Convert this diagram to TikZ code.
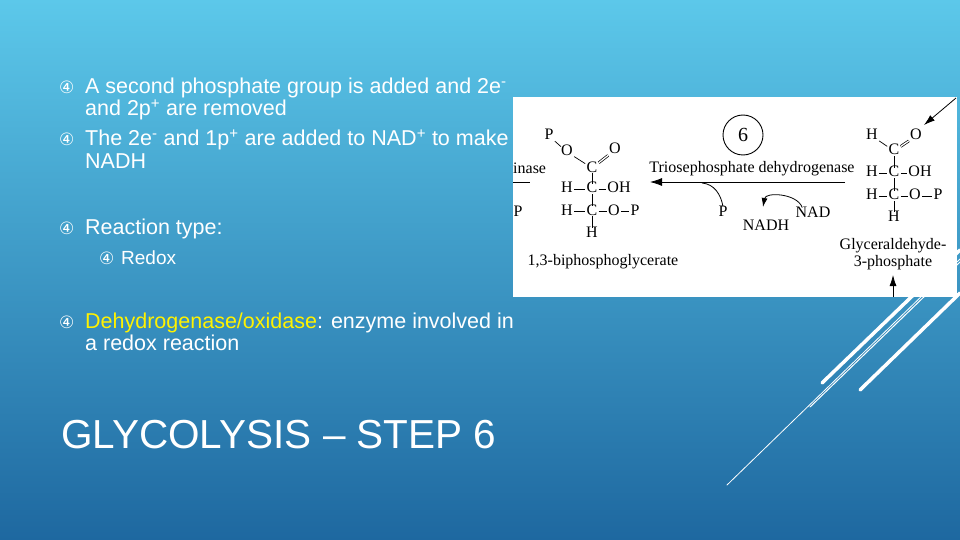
\documentclass[tikz,border=0pt]{standalone}
\usepackage{fontspec}
\setmainfont{Liberation Sans}
\newfontfamily\chemfont{Liberation Serif}
\newfontfamily\symfont{DejaVu Sans}
\usetikzlibrary{arrows.meta}
\begin{document}
\begin{tikzpicture}[x=1pt,y=-1pt,
  txt/.style={text=white,anchor=base west,inner sep=0pt,font=\fontsize{21.5}{23}\selectfont},
  bul/.style={text=white,anchor=base west,inner sep=0pt,font=\symfont\fontsize{17}{18}\selectfont},
  ch/.style={inner sep=1.2pt,text height=8pt,text depth=0pt,font=\chemfont\fontsize{16}{17}\selectfont},
  bond/.style={line width=0.7pt},
  deco/.style={white,line cap=round}]
\shade[top color={rgb,255:red,92;green,200;blue,234},bottom color={rgb,255:red,30;green,104;blue,160}] (0,0) rectangle (960,540);
\useasboundingbox (0,0) rectangle (960,540);
% decorative lines
\draw[deco,line width=3.5pt] (822,383) -- (960,250);
\draw[deco,line width=1pt] (810,407) -- (960,262);
\draw[deco,line width=0.8pt] (727,485) -- (960,259);
\draw[deco,line width=3.5pt] (860,390) -- (960,293);
% text
\node[bul] (b1) at (59,94) {④};
\node[txt] (t1) at (85,94) {A second phosphate group is added and 2e\textsuperscript{-}};
\node[txt] (t1b) at (85,116) {and 2p\textsuperscript{+} are removed};
\node[bul] (b2) at (59,146) {④};
\node[txt] (t2) at (85,146) {The 2e\textsuperscript{-} and 1p\textsuperscript{+} are added to NAD\textsuperscript{+} to make};
\node[txt] (t2b) at (85,168) {NADH};
\node[bul] (b3) at (59,234) {④};
\node[txt] (t3) at (85,234) {Reaction type:};
\node[bul] (b4) at (99,264) {④};
\node[txt,font=\fontsize{19}{20}\selectfont] (t4) at (121,264) {Redox};
\node[bul] (b5) at (59,328) {④};
\node[txt] (t5) at (85,328) {\textcolor{yellow}{Dehydrogenase/oxidase}: enzyme involved in};
\node[txt] (t5b) at (85,350) {a redox reaction};
\node[txt,font=\fontsize{40.5}{44}\selectfont] (title) at (61,448) {GLYCOLYSIS – STEP 6};
% white picture
\fill[white] (513,97) rectangle (957,297);
\node[ch,anchor=base west,inner sep=0pt] (inase) at (513,174) {inase};
\draw[bond] (513,182) -- (530,182);
\node[ch] (pl) at (518,212) {P};
% left molecule
\node[ch] (lp) at (549,136) {P};
\node[ch] (lo) at (567,152) {O};
\node[ch] (lc) at (592,168) {C};
\node[ch] (lo2) at (615,150) {O};
\node[ch] (lh1) at (567,189) {H};
\node[ch] (lc1) at (592,189) {C};
\node[ch] (loh) at (619,189) {OH};
\node[ch] (lh2) at (567,211) {H};
\node[ch] (lc2) at (592,211) {C};
\node[ch] (lo3) at (614,211) {O};
\node[ch] (lp3) at (635,211) {P};
\node[ch] (lh3) at (592,233) {H};
\draw[bond] (lp) -- (lo); \draw[bond] (lo) -- (lc);
\draw[bond,double,double distance=1.3pt] (lc) -- (lo2);
\draw[bond] (lc) -- (lc1); \draw[bond] (lh1) -- (lc1) -- (loh);
\draw[bond] (lc1) -- (lc2); \draw[bond] (lh2) -- (lc2) -- (lo3) -- (lp3);
\draw[bond] (lc2) -- (lh3);
\node[ch,text height=,text depth=] (lname) at (603,262) {1,3-biphosphoglycerate};
% reaction
\node[ch,draw,circle,line width=0.9pt,minimum size=40pt,text height=,text depth=,font=\chemfont\fontsize{20}{20}\selectfont] (six) at (743,135) {6};
\node[ch,text height=,text depth=] (enz) at (752,169) {Triosephosphate dehydrogenase};
\coordinate (aR) at (845,182);
\coordinate (aL) at (650,182);
\draw[line width=0.8pt,-{Latex[length=12pt,width=8pt]}] (aR) -- (aL);
\node[ch] (pp) at (723,212) {P};
\node[ch] (nad) at (813,213) {NAD};
\node[ch] (nadh) at (766,226) {NADH};
\draw[line width=0.8pt] (pp.north) to[out=100,in=-5] (702,183);
\draw[line width=0.8pt,-{Latex[length=9pt,width=6pt]}] (nad.north west) ++(8,0) to[out=110,in=80] (763,207);
% right molecule
\node[ch] (rh) at (872,136) {H};
\node[ch] (rc) at (894,151) {C};
\node[ch] (ro) at (916,136) {O};
\node[ch] (rh1) at (872,173) {H};
\node[ch] (rc1) at (894,173) {C};
\node[ch] (roh) at (920,173) {OH};
\node[ch] (rh2) at (872,196) {H};
\node[ch] (rc2) at (894,196) {C};
\node[ch] (ro3) at (915,196) {O};
\node[ch] (rp3) at (938,196) {P};
\node[ch] (rh3) at (894,217) {H};
\draw[bond] (rh) -- (rc); \draw[bond,double,double distance=1.3pt] (rc) -- (ro);
\draw[bond] (rc) -- (rc1); \draw[bond] (rh1) -- (rc1) -- (roh);
\draw[bond] (rc1) -- (rc2); \draw[bond] (rh2) -- (rc2) -- (ro3) -- (rp3);
\draw[bond] (rc2) -- (rh3);
\node[ch,align=center,text height=,text depth=] (rname) at (893,254) {Glyceraldehyde-\\3-phosphate};
\coordinate (bt) at (893,297);
\coordinate (bh) at (893,275);
\draw[line width=0.8pt,-{Latex[length=11pt,width=7pt]}] (bt) -- (bh);
\coordinate (tt) at (956,98);
\coordinate (th) at (924,125);
\draw[line width=0.8pt,-{Latex[length=11pt,width=7pt]}] (tt) -- (th);
\end{tikzpicture}
\end{document}
